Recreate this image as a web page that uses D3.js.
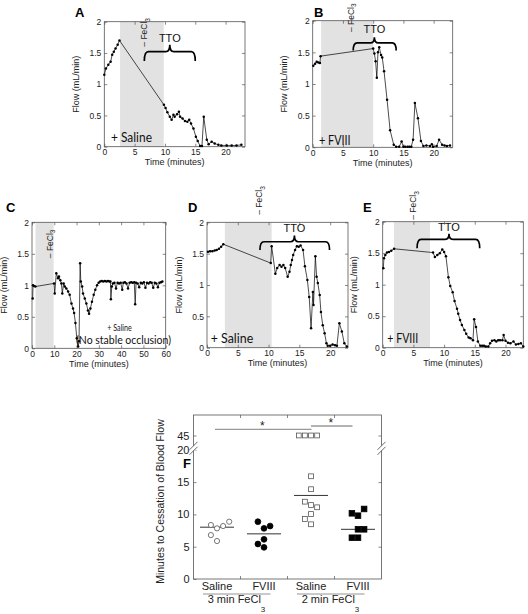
<!DOCTYPE html>
<html><head><meta charset="utf-8">
<script src="https://cdn.jsdelivr.net/npm/d3@7"></script>
<style>body{margin:0;background:#fff} svg{display:block}</style>
</head><body>
<svg id="c" width="528" height="614"></svg>
<script>
// ---------- DATA ----------
const aTime = [0, 0.27, 0.66, 1.04, 1.3, 1.57, 1.85, 2.2, 2.5, 9.83, 10.1, 10.4, 10.8, 11.1, 11.4, 11.6, 12.0, 12.3, 12.5, 12.9, 13.3, 13.7, 14.0, 14.3, 14.7, 15.1, 15.4, 15.8, 16.1, 16.4, 16.9, 17.2, 17.7, 18.2, 18.8, 19.3, 20.2, 21.0, 21.8, 22.6];
const aFlow = [1.15, 1.25, 1.31, 1.36, 1.47, 1.52, 1.57, 1.63, 1.70, 0.67, 0.62, 0.55, 0.48, 0.43, 0.51, 0.48, 0.52, 0.56, 0.48, 0.45, 0.41, 0.40, 0.43, 0.37, 0.29, 0.16, 0.09, 0.01, 0.01, 0.48, 0.11, 0.04, 0.08, 0.05, 0.03, 0.02, 0.02, 0.02, 0.02, 0.03];

const bTime = [0.1, 0.4, 0.66, 0.94, 1.2, 1.3, 10.0, 10.2, 10.4, 10.6, 10.8, 11.0, 11.3, 11.5, 11.8, 12.3, 12.8, 13.4, 13.8, 14.3, 14.7, 15.0, 15.3, 15.7, 16.0, 16.3, 16.6, 16.9, 17.4, 17.9, 18.3, 18.8, 19.4, 19.7, 19.9, 20.5, 20.9, 21.4, 21.8, 22.2, 22.7];
const bFlow = [1.29, 1.32, 1.35, 1.34, 1.33, 1.44, 1.56, 1.48, 1.36, 1.10, 1.50, 1.58, 1.46, 1.42, 1.20, 0.75, 0.27, 0.04, 0.01, 0.01, 0.09, 0.01, 0.01, 0.01, 0.01, 0.01, 0.12, 0.70, 0.46, 0.10, 0.02, 0.03, 0.02, 0.05, 0.01, 0.02, 0.12, 0.04, 0.03, 0.02, 0.03];

const cTime = [0.3, 0.45, 0.9, 1.5, 9.9, 10.2, 10.9, 11.7, 12.1, 12.7, 13.2, 13.6, 14.2, 14.7, 15.4, 16.2, 16.9, 17.7, 18.4, 18.9, 19.5, 20.1, 20.7, 21.1, 21.6, 21.9, 22.5, 22.9, 23.7, 24.4, 25.1, 25.6, 26.2, 26.9, 27.7, 28.4, 29.2, 29.9, 30.6, 31.3, 32.0, 32.7, 33.4, 34.1, 34.8, 35.2, 35.4, 35.8, 36.3, 37.0, 37.7, 38.4, 39.1, 39.8, 40.5, 41.0, 41.7, 42.4, 43.1, 43.8, 44.5, 45.2, 45.9, 46.3, 46.7, 47.4, 48.1, 48.8, 49.5, 50.2, 50.9, 51.6, 52.3, 53.0, 53.7, 54.4, 55.1, 55.8, 56.5, 57.2, 57.9, 58.5];
const cFlow = [0.79, 1.0, 0.99, 0.98, 1.03, 0.87, 1.19, 1.11, 1.14, 1.08, 1.03, 0.87, 1.03, 0.98, 0.95, 0.90, 0.85, 0.71, 0.63, 0.56, 0.40, 0.16, 0.03, 0.11, 1.35, 1.06, 0.98, 0.87, 0.79, 0.71, 0.60, 0.55, 0.63, 0.74, 0.85, 0.93, 1.0, 1.04, 1.06, 1.07, 1.06, 1.07, 1.06, 1.07, 1.06, 1.06, 0.78, 0.98, 1.03, 1.04, 0.95, 1.04, 1.03, 1.04, 0.93, 1.04, 1.05, 1.03, 0.95, 1.04, 1.05, 1.04, 1.05, 0.70, 1.04, 1.03, 0.97, 1.04, 1.03, 1.05, 0.96, 1.04, 1.03, 1.05, 1.04, 0.96, 1.04, 1.03, 0.97, 1.04, 1.05, 1.06];

const dTime = [0.16, 0.5, 0.87, 1.25, 1.57, 1.95, 2.3, 2.65, 10.35, 10.5, 11.1, 11.4, 11.8, 12.1, 12.4, 12.7, 13.1, 13.4, 13.6, 13.8, 14.0, 14.3, 14.6, 14.9, 15.2, 15.6, 15.9, 16.3, 16.6, 16.9, 17.2, 17.3, 17.6, 17.8, 18.0, 18.3, 18.5, 18.8, 19.1, 19.4, 19.6, 20.0, 20.4, 20.8, 21.1, 21.5, 21.9, 22.3, 22.7];
const dFlow = [1.53, 1.54, 1.54, 1.55, 1.56, 1.58, 1.61, 1.65, 1.35, 1.62, 1.18, 1.27, 1.32, 1.29, 1.32, 1.27, 1.13, 1.21, 1.32, 1.40, 1.48, 1.56, 1.62, 1.61, 1.63, 1.56, 1.30, 1.08, 0.81, 0.31, 0.89, 0.68, 1.46, 1.13, 1.03, 0.84, 0.57, 0.36, 0.23, 0.07, 0.03, 0.03, 0.05, 0.04, 0.03, 0.39, 0.26, 0.07, 0.02];

const eTime = [0.1, 0.2, 0.43, 0.7, 1.03, 1.4, 1.85, 8.2, 8.5, 8.9, 9.3, 9.7, 10.0, 10.3, 10.7, 11.0, 11.4, 11.7, 12.1, 12.3, 12.6, 12.9, 13.3, 13.6, 14.0, 14.3, 14.7, 14.9, 15.2, 15.5, 15.9, 16.2, 16.5, 16.8, 17.2, 17.5, 17.8, 18.2, 18.5, 18.8, 19.1, 19.5, 19.7, 20.0, 20.4, 20.8, 21.3, 21.7, 22.1, 22.5, 22.9];
const eFlow = [1.26, 1.42, 1.47, 1.51, 1.52, 1.54, 1.57, 1.51, 1.44, 1.47, 1.50, 1.56, 1.52, 1.45, 1.12, 0.98, 0.88, 0.74, 0.62, 0.54, 0.44, 0.36, 0.28, 0.22, 0.16, 0.15, 0.12, 0.45, 0.33, 0.10, 0.03, 0.03, 0.03, 0.02, 0.02, 0.07, 0.11, 0.12, 0.10, 0.12, 0.12, 0.12, 0.20, 0.11, 0.08, 0.07, 0.10, 0.05, 0.06, 0.07, 0.02];

const flowTicks = [0, 0.5, 1, 1.5, 2];
const timeTicksShort = [0, 5, 10, 15, 20];
const timeTicksLong = [0, 10, 20, 30, 40, 50, 60];

// Panel F
const fCategories = ["Saline", "FVIII", "Saline", "FVIII"];
const fGroups = ["3 min FeCl", "2 min FeCl"];
const fSaline3 = [8.36, 7.84, 8.2, 8.87, 6.8, 5.88];
const fSaline3Slot = [-1, 0, 1, 2, -1, 0];
const fFviii3 = [8.87, 8.2, 7.84, 6.14, 5.42, 4.9];
const fFviii3Slot = [-1, 1, 0, 0, -1, 0];
const fSaline2 = [15.9, 13.9, 11.97, 11.45, 11.1, 10.06, 9.29, 8.47, 45, 45, 45, 45];
const fSaline2Slot = [0, 0, -1, 0, 1, 0, -1, 0, -2, -1, 0, 1];
const fFviii2 = [10.17, 9.8, 10.84, 7.69, 7.69, 6.39, 6.39];
const fFviii2Slot = [-1, 0, 1, 0, 1, -1, 0];
const fLowTicks = [0, 5, 10, 15, 20];
const fHighTicks = [45];

// ---------- DRAW ----------
const svg = d3.select("#c");
const AX_FONT = "'Liberation Sans', Arial, sans-serif";
const NOTE_FONT = "Lato, 'Open Sans', sans-serif";

const panels = [
  {letter:"A", lx:75, ly:17, t:aTime, f:aFlow, xMax:23.2, left:104.3, right:245, top:21.7, bottom:146.7, xt:timeTicksShort,
   shade:[2.6, 9.8], fecl:[7.1, 1.6], tto:{a:6.6, b:15, m:10.8, h:1.52, e:1.37, tip:1.63, txt:1.68},
   notes:[{s:"+ Saline", t:1.1, f:0.08, size:13, len:41}]},
  {letter:"B", lx:314, ly:17, t:bTime, f:bFlow, xMax:23.15, left:312.7, right:452.7, top:20.7, bottom:147.3, xt:timeTicksShort,
   shade:[1.4, 10.0], fecl:[6.8, 1.82], tto:{a:6.7, b:13.8, m:10.2, h:1.65, e:1.53, tip:1.74, txt:1.8},
   notes:[{s:"+ FVIII", t:1.05, f:0.035, size:13, len:31.5}]},
  {letter:"C", lx:6, ly:212, t:cTime, f:cFlow, xMax:60, left:32, right:165.7, top:222.3, bottom:348.3, xt:timeTicksLong,
   shade:[1.6, 9.7], fecl:[9.3, 1.43], tto:null,
   notes:[{s:"+ Saline", t:33.8, f:0.27, size:10, len:24.5}, {s:"(No stable occlusion)", t:19.75, f:0.07, size:11, len:95}]},
  {letter:"D", lx:188, ly:212, t:dTime, f:dFlow, xMax:22.9, left:207, right:348, top:222.3, bottom:347.7, xt:timeTicksShort,
   shade:[2.9, 10.5], fecl:[9.0, 2.12], tto:{a:8.6, b:19.9, m:14.2, h:1.69, e:1.56, tip:1.79, txt:1.84},
   notes:[{s:"+ Saline", t:0.6, f:0.075, size:13, len:42.5}]},
  {letter:"E", lx:363, ly:212, t:eTime, f:eFlow, xMax:22.9, left:382.7, right:523.3, top:221.7, bottom:347.7, xt:timeTicksShort,
   shade:[1.85, 7.7], fecl:[5.5, 2.03], tto:{a:5.6, b:15.8, m:10.8, h:1.72, e:1.58, tip:1.81, txt:1.86},
   notes:[{s:"+ FVIII", t:0.75, f:0.075, size:13, len:31}]}
];

function styleAxis(g){
  g.select(".domain").remove();
  g.selectAll("line").attr("stroke","#555").attr("stroke-width",0.7);
  g.selectAll("text").attr("font-family",AX_FONT).attr("font-size",8.5).attr("fill","#222");
}

function letter(txt,x,y){
  svg.append("text").attr("x",x).attr("y",y).text(txt)
    .attr("font-family",AX_FONT).attr("font-weight","bold").attr("font-size",13).attr("fill","#000");
}

panels.forEach(p=>{
  const x = d3.scaleLinear().domain([0,p.xMax]).range([p.left,p.right]);
  const y = d3.scaleLinear().domain([0,2]).range([p.bottom,p.top]);
  const g = svg.append("g");
  g.append("rect").attr("x",x(p.shade[0])).attr("y",p.top)
    .attr("width",x(p.shade[1])-x(p.shade[0])).attr("height",p.bottom-p.top).attr("fill","#e2e2e2");

  g.append("g").attr("transform",`translate(0,${p.bottom})`)
    .call(d3.axisBottom(x).tickValues(p.xt).tickSize(-3).tickPadding(2.5).tickFormat(d3.format("d"))).call(styleAxis);
  g.append("g").attr("transform",`translate(0,${p.top})`)
    .call(d3.axisTop(x).tickValues(p.xt).tickSize(-3).tickFormat("")).call(styleAxis);
  g.append("g").attr("transform",`translate(${p.left},0)`)
    .call(d3.axisLeft(y).tickValues(flowTicks).tickSize(-3).tickPadding(3).tickFormat(d=>String(d))).call(styleAxis);
  g.append("g").attr("transform",`translate(${p.right},0)`)
    .call(d3.axisRight(y).tickValues(flowTicks).tickSize(-3).tickFormat("")).call(styleAxis);
  g.append("rect").attr("x",p.left).attr("y",p.top).attr("width",p.right-p.left).attr("height",p.bottom-p.top)
    .attr("fill","none").attr("stroke","#555").attr("stroke-width",0.8);

  g.append("text").attr("transform",`translate(${p.left-25.5},${(p.top+p.bottom)/2}) rotate(-90)`)
    .attr("text-anchor","middle").attr("font-family",AX_FONT).attr("font-size",9).attr("fill","#222").text("Flow (mL/min)");
  g.append("text").attr("x",(p.left+p.right)/2).attr("y",p.bottom+18.5)
    .attr("text-anchor","middle").attr("font-family",AX_FONT).attr("font-size",9).attr("fill","#222").text("Time (minutes)");

  const idx = d3.range(p.t.length);
  const line = d3.line().x(i=>x(p.t[i])).y(i=>y(p.f[i]));
  g.append("path").attr("d",line(idx)).attr("fill","none").attr("stroke","#000").attr("stroke-width",0.7);
  g.selectAll("circle.pt").data(idx).join("circle").attr("class","pt")
    .attr("cx",i=>x(p.t[i])).attr("cy",i=>y(p.f[i])).attr("r",1.25).attr("fill","#000");

  const fl = g.append("text").attr("transform",`translate(${x(p.fecl[0])},${y(p.fecl[1])}) rotate(-90)`)
    .attr("font-family",AX_FONT).attr("font-size",8.5).attr("fill","#222");
  fl.append("tspan").text("– FeCl");
  fl.append("tspan").attr("dy","0.35em").attr("font-size",6.5).text("3");

  if(p.tto){
    const T=p.tto, xa=x(T.a), xb=x(T.b), xm=x(T.m), yh=y(T.h), ye=y(T.e), yt=y(T.tip), r=4;
    const d = `M${xa},${ye} Q${xa},${yh} ${xa+r},${yh} H${xm-r} Q${xm},${yh} ${xm},${yt} Q${xm},${yh} ${xm+r},${yh} H${xb-r} Q${xb},${yh} ${xb},${ye}`;
    g.append("path").attr("d",d).attr("fill","none").attr("stroke","#000").attr("stroke-width",1.7);
    g.append("text").attr("x",xm).attr("y",y(T.txt)).attr("text-anchor","middle")
      .attr("font-family",AX_FONT).attr("font-size",11).attr("fill","#111").text("TTO");
  }
  p.notes.forEach(n=>{
    g.append("text").attr("x",x(n.t)).attr("y",y(n.f)).attr("font-family",NOTE_FONT).attr("font-size",n.size)
      .attr("textLength",n.len).attr("lengthAdjust","spacingAndGlyphs").attr("fill","#111").text(n.s);
  });
  letter(p.letter,p.lx,p.ly);
});

// ---------- Panel F ----------
(function(){
  const L=193.5, R=381.5, T=415, B=579;
  const xb = d3.scaleBand().domain(d3.range(4)).range([L,R]);
  const cx = i=>xb(i)+xb.bandwidth()/2;
  const yLow = d3.scaleLinear().domain([0,20]).range([B,449.8]);
  const yHigh = d3.scaleLinear().domain([41.5,50]).range([449.8,T]);
  const yv = v=> v>20 ? yHigh(v) : yLow(v);
  const slotW = 6.1;
  const g = svg.append("g");

  const axF = (sel)=>{ sel.select(".domain").remove(); sel.selectAll("line").attr("stroke","#555").attr("stroke-width",0.7);
    sel.selectAll("text").attr("font-family",AX_FONT).attr("font-size",11).attr("fill","#222"); };
  g.append("g").attr("transform",`translate(${L},0)`).call(d3.axisLeft(yLow).tickValues(fLowTicks).tickSize(-3).tickPadding(4)).call(axF);
  g.append("g").attr("transform",`translate(${L},0)`).call(d3.axisLeft(yHigh).tickValues(fHighTicks).tickSize(-3).tickPadding(4)).call(axF);
  g.append("g").attr("transform",`translate(${R},0)`).call(d3.axisRight(yLow).tickValues([5,10,15]).tickSize(-3).tickFormat("")).call(axF);
  g.append("g").attr("transform",`translate(${R},0)`).call(d3.axisRight(yHigh).tickValues(fHighTicks).tickSize(-3).tickFormat("")).call(axF);
  [1,2,3].map(i=>xb(i)).forEach(bx=>{
    g.append("line").attr("x1",bx).attr("x2",bx).attr("y1",B).attr("y2",B-3).attr("stroke","#555").attr("stroke-width",0.7);
    g.append("line").attr("x1",bx).attr("x2",bx).attr("y1",T).attr("y2",T+3).attr("stroke","#555").attr("stroke-width",0.7);
  });
  g.append("rect").attr("x",L).attr("y",T).attr("width",R-L).attr("height",B-T)
    .attr("fill","none").attr("stroke","#555").attr("stroke-width",0.8);
  [L,R].forEach(bx=>{
    const by = yLow(20)-1.5;
    g.append("rect").attr("x",bx-2).attr("y",by-2.5).attr("width",4).attr("height",5).attr("fill","#fff");
    [-2.5,2.5].forEach(o=>g.append("line").attr("x1",bx-4).attr("y1",by+o+4).attr("x2",bx+4).attr("y2",by+o-4)
      .attr("stroke","#444").attr("stroke-width",0.8));
  });

  g.append("text").attr("transform",`translate(163.5,${(T+588)/2}) rotate(-90)`).attr("text-anchor","middle")
    .attr("font-family",AX_FONT).attr("font-size",10.5).attr("fill","#222").text("Minutes to Cessation of Blood Flow");

  fCategories.forEach((c,i)=>g.append("text").attr("x",cx(i)).attr("y",590).attr("text-anchor","middle")
    .attr("font-family",AX_FONT).attr("font-size",11).attr("fill","#222").text(c));
  fGroups.forEach((gr,k)=>{
    const a=cx(2*k), b=cx(2*k+1);
    g.append("line").attr("x1",a-14).attr("x2",b+6.5).attr("y1",594).attr("y2",594).attr("stroke","#888").attr("stroke-width",0.9);
    const t=g.append("text").attr("x",(a+b)/2-4).attr("y",603).attr("text-anchor","middle")
      .attr("font-family",AX_FONT).attr("font-size",11).attr("fill","#222");
    t.append("tspan").text(gr);
    t.append("tspan").attr("dy",9).attr("font-size",8).text("3");
  });

  const sets = [
    {v:fSaline3, s:fSaline3Slot, shape:"circle", fill:false},
    {v:fFviii3, s:fFviii3Slot, shape:"circle", fill:true},
    {v:fSaline2, s:fSaline2Slot, shape:"square", fill:false},
    {v:fFviii2, s:fFviii2Slot, shape:"square", fill:true}
  ];
  sets.forEach((st,i)=>{
    const med = d3.median(st.v);
    g.append("line").attr("x1",cx(i)-17).attr("x2",cx(i)+17).attr("y1",yv(med)).attr("y2",yv(med))
      .attr("stroke","#333").attr("stroke-width",1);
    st.v.forEach((v,j)=>{
      const px = cx(i)+st.s[j]*slotW, py = yv(v);
      if(st.shape==="circle"){
        g.append("circle").attr("cx",px).attr("cy",py).attr("r",st.fill?2.9:2.6)
          .attr("fill",st.fill?"#000":"#fff").attr("stroke",st.fill?"#000":"#555").attr("stroke-width",0.8);
      } else {
        const sz = st.fill?5.6:4.8;
        g.append("rect").attr("x",px-sz/2).attr("y",py-sz/2).attr("width",sz).attr("height",sz)
          .attr("fill",st.fill?"#000":"#fff").attr("stroke",st.fill?"#000":"#555").attr("stroke-width",0.8);
      }
    });
  });

  const sig = [{a:0, ao:-2, b:2, bo:0.5, v:46.5}, {a:2, ao:0, b:3, bo:-5.5, v:47.3}];
  sig.forEach(sb=>{
    const xa=cx(sb.a)+sb.ao, xbb=cx(sb.b)+sb.bo, yy=yHigh(sb.v);
    g.append("line").attr("x1",xa).attr("x2",xbb).attr("y1",yy).attr("y2",yy).attr("stroke","#999").attr("stroke-width",1.4);
    g.append("text").attr("x",(xa+xbb)/2-1).attr("y",yy+1).attr("text-anchor","middle")
      .attr("font-family",AX_FONT).attr("font-size",12).attr("fill","#222").text("*");
  });
  letter("F",183,468);
})();
</script>
</body></html>
